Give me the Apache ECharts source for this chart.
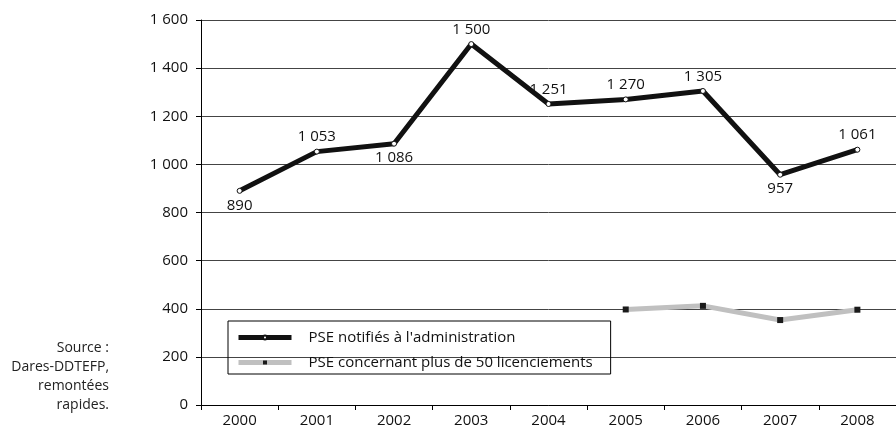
<!DOCTYPE html>
<html>
<head>
<meta charset="utf-8">
<script src="https://cdn.jsdelivr.net/npm/echarts@6/dist/echarts.min.js"></script>
<style>
  html, body { margin: 0; padding: 0; background: #fff; }
  #chart { width: 896px; height: 432px; }
</style>
</head>
<body>
<div id="chart"></div>
<script>
// données
var years = ['2000', '2001', '2002', '2003', '2004', '2005', '2006', '2007', '2008'];
var pseNotifies = [890, 1053, 1086, 1500, 1251, 1270, 1305, 957, 1061];
var psePlus50 = [null, null, null, null, null, 397, 412, 353, 396];
var yTicks = [0, 200, 400, 600, 800, 1000, 1200, 1400, 1600];
var sourceLines = ['Source :', 'Dares-DDTEFP,', 'remontées', 'rapides.'];

var FONT = 'Open Sans';

// espace comme séparateur de milliers
function fmt(v){
    var s = String(v);
    return s.length > 3 ? s.slice(0, s.length - 3) + ' ' + s.slice(-3) : s;
}

// étiquettes sous le point pour les creux
var labelsBelow = ['2000', '2002', '2007'];

var myChart = echarts.init(document.getElementById('chart'));

var option = {
    backgroundColor: '#fff',
    animation: false,
    textStyle: { fontFamily: FONT },
    grid: { left: 201, right: -12, top: 20, bottom: 27 },
    legend: {
        orient: 'vertical',
        left: 228,
        top: 321,
        padding: [9, 18, 4, 8],
        itemGap: 10,
        itemWidth: 53,
        itemHeight: 5,
        borderColor: '#000',
        borderWidth: 1,
        lineStyle: { width: 5 },
        textStyle: { fontFamily: FONT, fontSize: 15, color: '#111', padding: [0, 0, 0, 12] },
        data: ['PSE notifiés à l\'administration', 'PSE concernant plus de 50 licenciements']
    },
    xAxis: {
        type: 'category',
        data: years,
        boundaryGap: true,
        axisLine: { lineStyle: { color: '#000', width: 1 } },
        axisTick: { show: true, length: 5, lineStyle: { color: '#000' } },
        axisLabel: { fontFamily: FONT, fontSize: 15, color: '#111', margin: 8 },
        splitLine: { show: false }
    },
    yAxis: {
        type: 'value',
        min: yTicks[0],
        max: yTicks[yTicks.length - 1],
        interval: 200,
        axisLine: { show: true, lineStyle: { color: '#000', width: 1 } },
        axisTick: { show: true, length: 5, lineStyle: { color: '#000' } },
        axisLabel: { fontFamily: FONT, fontSize: 15, color: '#111', margin: 13, formatter: fmt },
        splitLine: { show: true, lineStyle: { color: '#444', width: 1 } }
    },
    series: [{
        name: 'PSE notifiés à l\'administration',
        type: 'line',
        z: 3,
        symbol: 'circle',
        symbolSize: 5,
        showAllSymbol: true,
        lineStyle: { color: '#111', width: 5 },
        itemStyle: { color: '#fff', borderColor: '#111', borderWidth: 1 },
        label: {
            show: true,
            position: 'top',
            distance: 4,
            fontFamily: FONT,
            fontSize: 15,
            color: '#111',
            formatter: function(p){ return fmt(p.value); }
        },
        data: pseNotifies.map(function(v, i){
            if (labelsBelow.indexOf(years[i]) >= 0) {
                return { value: v, label: { position: 'bottom' } };
            }
            return v;
        })
    }, {
        name: 'PSE concernant plus de 50 licenciements',
        type: 'line',
        z: 2,
        symbol: 'rect',
        symbolSize: 6,
        showAllSymbol: true,
        lineStyle: { color: '#c0c0c0', width: 5 },
        itemStyle: { color: '#1a1a1a', borderWidth: 0 },
        data: psePlus50
    }],
    graphic: [{
        type: 'text',
        x: 109,
        y: 339,
        style: {
            text: sourceLines.join('\n'),
            align: 'right',
            verticalAlign: 'top',
            lineHeight: 19,
            fontFamily: FONT,
            fontSize: 14,
            fill: '#222'
        }
    }]
};

myChart.setOption(option);
</script>
</body>
</html>
